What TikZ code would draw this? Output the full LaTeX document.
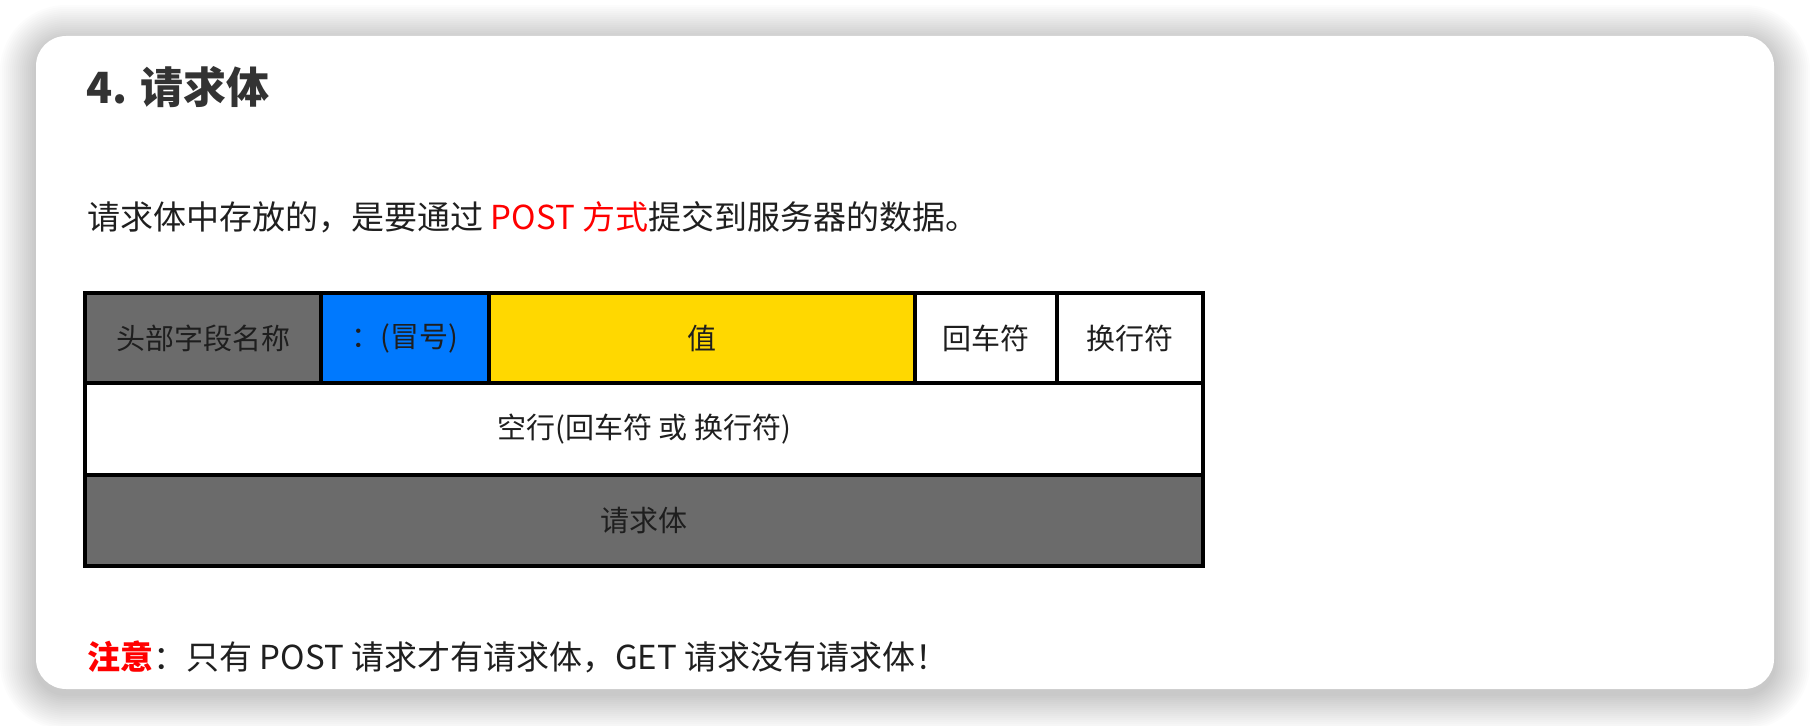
\documentclass[tikz,border=0pt]{standalone}
\usepackage{fontspec}
\setmainfont{Noto Sans CJK SC}
\usetikzlibrary{positioning}

\definecolor{cellgray}{HTML}{6B6B6B}
\definecolor{colonblue}{HTML}{0079FE}
\definecolor{valueyellow}{HTML}{FFD800}
\definecolor{inkgray}{HTML}{1E1E1E}
\definecolor{headgray}{HTML}{333333}
\definecolor{notered}{HTML}{FF0000}

\begin{document}
\begin{tikzpicture}[
  x=0.5pt, y=-0.5pt,
  cell/.style={draw=black, line width=2pt, inner sep=0pt, outer sep=0pt,
    minimum height=45pt, text=inkgray, font=\fontsize{14.5}{17}\selectfont},
  textline/.style={anchor=west, inner sep=0pt, text=black!88,
    font=\fontsize{16.5}{20}\selectfont}
]
\useasboundingbox (0,0) rectangle (1810,726);
\fill[white] (0,0) rectangle (1810,726);

% card with soft shadow
\foreach \s in {1,...,18}
  \fill[black, opacity=0.011, rounded corners=15pt+1pt*\s]
    (36-2*\s,41-2*\s) rectangle (1774+2*\s,694+2*\s);
\fill[white, rounded corners=15pt] (36,36) rectangle (1774,689);

% texts
\node[textline, text=headgray, font=\fontsize{21.5}{26}\selectfont\bfseries]
  (title) at (86,87) {4. 请求体};
\node[textline] (intro) at (87,217)
  {请求体中存放的，是要通过 \textcolor{notered}{POST 方式}提交到服务器的数据。};

% message layout
\node[cell, fill=cellgray, minimum width=118pt, anchor=north west]
  (field) at (85,293) {头部字段名称};
\node[cell, fill=colonblue, minimum width=84pt, right=0pt of field] (colon) {：(冒号)};
\node[cell, fill=valueyellow, minimum width=213pt, right=0pt of colon] (value) {值};
\node[cell, fill=white, minimum width=71pt, right=0pt of value] (cr) {回车符};
\node[cell, fill=white, minimum width=73pt, right=0pt of cr] (lf) {换行符};
\node[cell, fill=white, minimum width=559pt, minimum height=46pt, anchor=north west]
  (blank) at (field.south west) {空行(回车符 或 换行符)};
\node[cell, fill=cellgray, minimum width=559pt, minimum height=45.5pt, anchor=north west]
  (body) at (blank.south west) {请求体};

\node[textline] (note) at (87,657)
  {\textcolor{notered}{\bfseries 注意}：只有 POST 请求才有请求体，GET 请求没有请求体！};
\end{tikzpicture}
\end{document}
